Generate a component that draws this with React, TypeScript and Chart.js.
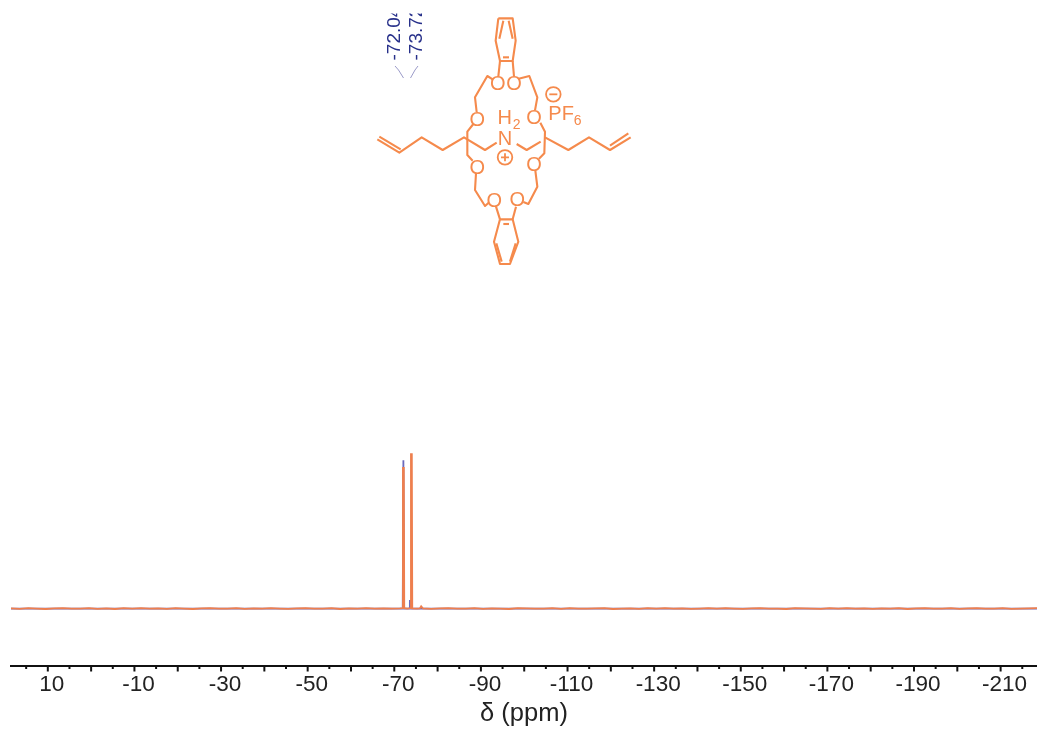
import React, { useEffect, useRef } from "react";
import { Chart, registerables } from "chart.js";

Chart.register(...registerables);

const spectrumPpm = [18.5,16.5,14.5,12.5,10.5,8.5,6.5,4.5,2.5,0.5,-1.5,-3.5,-5.5,-7.5,-9.5,-11.5,-13.5,-15.5,-17.5,-19.5,-21.5,-23.5,-25.5,-27.5,-29.5,-31.5,-33.5,-35.5,-37.5,-39.5,-41.5,-43.5,-45.5,-47.5,-49.5,-51.5,-53.5,-55.5,-57.5,-59.5,-61.5,-63.5,-65.5,-67.5,-69.5,-71.3,-71.9,-72.0,-72.2,-72.3,-73.0,-73.75,-73.85,-74.05,-74.15,-75.2,-75.9,-76.2,-76.6,-78.5,-80.5,-82.5,-84.5,-86.5,-88.5,-90.5,-92.5,-94.5,-96.5,-98.5,-100.5,-102.5,-104.5,-106.5,-108.5,-110.5,-112.5,-114.5,-116.5,-118.5,-120.5,-122.5,-124.5,-126.5,-128.5,-130.5,-132.5,-134.5,-136.5,-138.5,-140.5,-142.5,-144.5,-146.5,-148.5,-150.5,-152.5,-154.5,-156.5,-158.5,-160.5,-162.5,-164.5,-166.5,-168.5,-170.5,-172.5,-174.5,-176.5,-178.5,-180.5,-182.5,-184.5,-186.5,-188.5,-190.5,-192.5,-194.5,-196.5,-198.5,-200.5,-202.5,-204.5,-206.5,-208.5,-210.5,-212.5,-214.5,-216.5,-218.4];
const spectrumIntensity = [0.1,-0.2,0.2,0,-0.3,0.1,0.3,-0.1,0,0.2,-0.2,0.1,-0.3,0.2,0,0.3,-0.1,0.1,-0.2,0.2,0,-0.3,0.1,0.2,-0.1,0,0.3,-0.2,0.1,-0.1,0.2,0,-0.2,0.1,0.3,-0.1,0,0.2,-0.3,0.1,0,0.2,-0.1,0.1,0,0.1,0.3,91,91,0.2,0,0.2,100,100,0.1,0,0.1,1.4,0.1,-0.2,0.1,0.2,-0.1,0,0.3,-0.2,0.1,0,-0.3,0.2,0.1,-0.1,0,0.2,-0.2,0.3,0,-0.1,0.1,0.2,-0.3,0,0.1,-0.2,0.2,0,0.3,-0.1,0.1,-0.2,0,0.2,-0.1,0.3,0,-0.2,0.1,0.2,-0.1,0,-0.3,0.2,0.1,0,-0.2,0.2,-0.1,0.3,0,0.1,-0.2,0.1,0,0.2,-0.3,0.1,0.2,-0.1,0,0.2,-0.2,0.1,0.3,0,-0.1,0.2,-0.2,0,0.1,0.2];
const assignedPpm = [18.5,-71.95,-72.1,-72.25,-73.55,-73.6,-73.65,-73.7,-218.4];
const assignedIntensity = [0,0,96,0,0,5,5,0,0];
const peakLabels = ["-72.04", "-73.72"];
const axisTitle = "δ (ppm)";
const ORANGE = "#EE7F4E";
const MOL = "#F58A4C";

// Structure drawing, in 3x crop units relative to the picture block.
const bonds: number[][] = [
  [415,55,458,55,467,122,458,183,420,183,407,122,415,55],
  [430,62,418,116],[446,62,458,116],[429,172,447,172],
  [420,183,415,229],[458,183,462,229],
  [398,238,382,228,345,292,350,336],[476,236,508,228,532,292,525,331],
  [340,372,322,395,322,465,338,482],[541,368,555,395,553,460,537,476],
  [348,520,345,570,375,618,386,608],[526,512,532,560,505,612,490,606],
  [408,620,420,658],[468,620,458,658],
  [420,658,458,658,475,725,450,792,420,792,402,725,420,658],
  [430,672,447,672],[409,730,425,785],[467,730,450,785],
  [52,418,118,458,185,412,248,450,312,412,375,450,410,428],[58,410,122,448],
  [470,432,500,450,542,425],[555,412,625,450,687,412,750,450,812,412],[750,437,805,400],
];
const rings: number[][] = [[413,250],[462,250],[352,357],[522,350],[352,500],[522,492],[403,600],[472,598]];

const decorations = {
  id: "decorations",
  afterDraw(chart: any) {
    const { ctx, scales } = chart;
    const xs = scales.x;
    const axisY = xs.top;
    ctx.save();
    // tick marks, two lengths
    ctx.strokeStyle = "#111";
    ctx.lineWidth = 2;
    for (const t of xs.ticks) {
      const px = xs.getPixelForValue(t.value);
      const isMajor = Math.abs(t.value % 10) < 1e-6;
      ctx.beginPath();
      ctx.moveTo(px, axisY);
      ctx.lineTo(px, axisY + (isMajor ? 5.5 : 3));
      ctx.stroke();
    }
    // peak labels, cut off by the picture's edge
    ctx.save();
    ctx.beginPath();
    ctx.rect(360, 13.5, 100, 60);
    ctx.clip();
    ctx.fillStyle = "#27308A";
    ctx.font = "19px 'Liberation Sans'";
    ctx.textAlign = "left";
    ctx.textBaseline = "alphabetic";
    [400, 421.7].forEach((x, i) => {
      ctx.save();
      ctx.translate(x, 60.5);
      ctx.rotate(-Math.PI / 2);
      ctx.fillText(peakLabels[i], 0, 0);
      ctx.restore();
    });
    ctx.restore();
    // leader brackets
    ctx.strokeStyle = "#9A9AC8";
    ctx.lineWidth = 1;
    [[395,66,398.5,70,403.5,78],[418,66,415,70,410.5,78]].forEach((p) => {
      ctx.beginPath();
      ctx.moveTo(p[0], p[1]);
      ctx.lineTo(p[2], p[3]);
      ctx.lineTo(p[4], p[5]);
      ctx.stroke();
    });
    // structure
    const mx = (v: number) => 360 + v / 3;
    const my = (v: number) => v / 3;
    ctx.strokeStyle = MOL;
    ctx.fillStyle = MOL;
    ctx.lineWidth = 2.1;
    ctx.lineJoin = "round";
    for (const b of bonds) {
      ctx.beginPath();
      ctx.moveTo(mx(b[0]), my(b[1]));
      for (let i = 2; i < b.length; i += 2) ctx.lineTo(mx(b[i]), my(b[i + 1]));
      ctx.stroke();
    }
    ctx.textAlign = "center";
    ctx.textBaseline = "alphabetic";
    ctx.font = "20px 'Liberation Sans'";
    for (const r of rings) ctx.fillText("O", mx(r[0]), my(r[1]) + 7);
    ctx.fillText("N", mx(435), my(415) + 7);
    ctx.fillText("H", mx(434), my(373));
    ctx.font = "14px 'Liberation Sans'";
    ctx.fillText("2", mx(470), my(386));
    ctx.textAlign = "left";
    ctx.font = "20px 'Liberation Sans'";
    ctx.fillText("PF", mx(565), my(360));
    ctx.font = "14px 'Liberation Sans'";
    ctx.fillText("6", mx(641), my(374));
    // charge marks
    ctx.lineWidth = 1.8;
    ctx.textAlign = "center";
    [[435,472,true],[580,283,false]].forEach(([x,y,plus]: any) => {
      const cx = mx(x), cy = my(y);
      ctx.beginPath();
      ctx.arc(cx, cy, 7.3, 0, Math.PI * 2);
      ctx.stroke();
      ctx.beginPath();
      ctx.moveTo(cx - 4, cy);
      ctx.lineTo(cx + 4, cy);
      if (plus) { ctx.moveTo(cx, cy - 4); ctx.lineTo(cx, cy + 4); }
      ctx.stroke();
    });
    ctx.restore();
  },
};

export default function App() {
  const ref = useRef<HTMLCanvasElement>(null);
  useEffect(() => {
    const chart = new Chart(ref.current as HTMLCanvasElement, {
      type: "line",
      data: {
        datasets: [
          {
            data: spectrumPpm.map((x, i) => ({ x, y: spectrumIntensity[i] })),
            borderColor: ORANGE,
            borderWidth: 1.8,
            pointRadius: 0,
            tension: 0,
            order: 1,
          },
          {
            data: assignedPpm.map((x, i) => ({ x, y: assignedIntensity[i] })),
            borderColor: "#6A6ABC",
            borderWidth: 1.8,
            pointRadius: 0,
            tension: 0,
            order: 2,
          },
        ],
      },
      options: {
        responsive: false,
        animation: false,
        parsing: false,
        normalized: false,
        layout: { padding: { left: 11, right: 0, top: 0, bottom: 0 } },
        plugins: { legend: { display: false }, tooltip: { enabled: false }, title: { display: false } },
        scales: {
          x: {
            type: "linear",
            reverse: true,
            min: -218.4,
            max: 18.5,
            grid: { display: true, drawOnChartArea: false, drawTicks: false },
            border: { display: true, color: "#111", width: 2 },
            afterBuildTicks: (s: any) => {
              s.ticks = s.ticks.filter((t: any) => Math.abs(t.value % 5) < 1e-6);
            },
            afterFit: (s: any) => {
              s.height = 63;
            },
            ticks: {
              stepSize: 5,
              includeBounds: false,
              autoSkip: false,
              maxRotation: 0,
              minRotation: 0,
              padding: 5,
              labelOffset: 4,
              color: "#222",
              font: { family: "'Liberation Sans'", size: 22.5 },
              callback: (v: any) => (Math.abs(((v % 20) + 20) % 20 - 10) < 1e-6 ? String(v) : ""),
            },
            title: {
              display: true,
              text: axisTitle,
              color: "#222",
              padding: { top: 0, bottom: 0 },
              font: { family: "'Liberation Sans'", size: 25.5 },
            },
          },
          y: { display: false, min: -37.2, max: 393.9 },
        },
      } as any,
      plugins: [decorations],
    });
    return () => chart.destroy();
  }, []);
  return (
    <canvas
      ref={ref}
      width={1037}
      height={729}
      style={{ position: "absolute", left: 0, top: 0, width: 1037, height: 729, display: "block" }}
    />
  );
}
